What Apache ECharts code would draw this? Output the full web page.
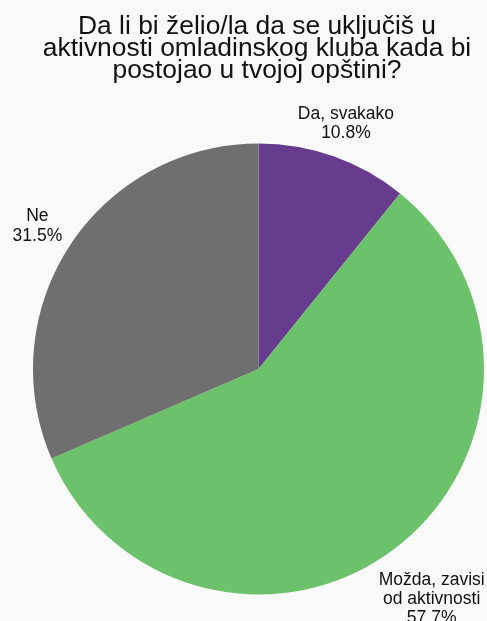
<!DOCTYPE html>
<html>
<head>
<meta charset="utf-8">
<script src="https://cdn.jsdelivr.net/npm/echarts@6/dist/echarts.min.js"></script>
<style>
html,body{margin:0;padding:0;background:#f9f9f9;}
#chart{width:487px;height:621px;}
</style>
</head>
<body>
<div id="chart"></div>
<script>
var titleText = 'Da li bi želio/la da se uključiš u\naktivnosti omladinskog kluba kada bi\npostojao u tvojoj opštini?';
var categories = ['Da, svakako', 'Možda, zavisi\nod aktivnosti', 'Ne'];
var values = [10.8, 57.7, 31.5];
var colors = ['#673b8d', '#6cc16b', '#6f6f6f'];

var CX = 258.5, CY = 369, R = 225.5, CORNER_R = 235, PAD = 400, LABEL_DY = 2.5;
var total = values.reduce(function(a, b){ return a + b; }, 0);

var chart = echarts.init(document.getElementById('chart'), null, {renderer: 'canvas'});
chart.setOption({
  backgroundColor: '#f9f9f9',
  animation: false,
  title: {
    text: titleText,
    left: 257,
    top: 16,
    padding: 0,
    textAlign: 'center',
    textStyle: {
      fontFamily: 'Liberation Sans, Arial, sans-serif',
      fontSize: 26.4,
      fontWeight: 'normal',
      lineHeight: 22,
      color: '#111111'
    }
  },
  series: [{
    type: 'pie',
    left: -PAD, top: -PAD, width: 487 + 2 * PAD, height: 621 + 2 * PAD,
    center: [CX + PAD, CY + PAD],
    radius: [0, R],
    startAngle: 90,
    clockwise: true,
    color: colors,
    data: categories.map(function(c, i){ return {name: c, value: values[i]}; }),
    label: {
      show: true,
      position: 'outside',
      formatter: function(p){ return p.name + '\n' + p.value.toFixed(1) + '%'; },
      fontFamily: 'Liberation Sans, Arial, sans-serif',
      fontSize: 17.5,
      lineHeight: 19.3,
      color: '#111111',
      align: 'center',
      overflow: 'none'
    },
    labelLine: {show: false},
    labelLayout: function(params){
      var i = params.dataIndex;
      var before = 0;
      for (var k = 0; k < i; k++) before += values[k];
      var a = (before + values[i] / 2) / total * Math.PI * 2;
      var dx = Math.sin(a), dy = -Math.cos(a);
      var hw = params.labelRect.width / 2;
      var hh = (params.labelRect.height - 6.5) / 2;
      var c1 = (dx < 0 ? -1 : 1) * hw, c2 = (dy < 0 ? -1 : 1) * hh;
      var dc = dx * c1 + dy * c2;
      var t = dc + Math.sqrt(dc * dc - (c1 * c1 + c2 * c2) + CORNER_R * CORNER_R);
      return {x: CX + dx * t, y: CY + dy * t + LABEL_DY, align: 'center', verticalAlign: 'middle'};
    },
    itemStyle: {borderWidth: 0},
    emphasis: {disabled: true}
  }]
});
</script>
</body>
</html>
